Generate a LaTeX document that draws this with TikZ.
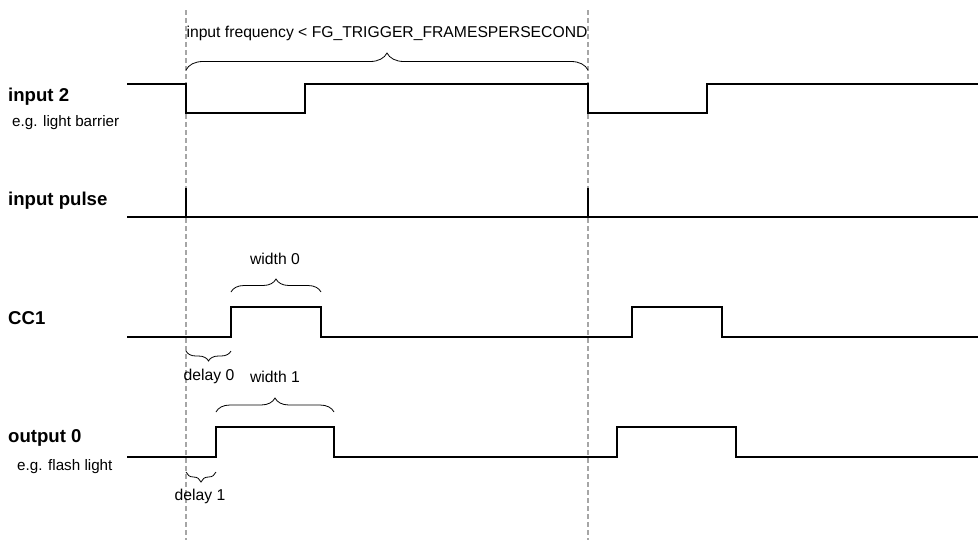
\documentclass[tikz,border=0pt]{standalone}
\usepackage{fontspec}
\setmainfont{Liberation Sans}
\usetikzlibrary{decorations.pathreplacing}

\begin{document}
\begin{tikzpicture}[x=1pt, y=-1pt,
  every node/.style={inner sep=0pt},
  signal/.style={line width=1.6pt, line join=miter},
  guide/.style={gray!70, line width=1.2pt, dash pattern=on 5pt off 3pt},
  bracket/.style={decorate, decoration={brace, amplitude=#1}, line width=0.8pt},
  title/.style={font=\bfseries\fontsize{18.6}{20}\selectfont, anchor=west},
  note/.style={font=\fontsize{15.2}{17}\selectfont, anchor=west},
  tag/.style={font=\fontsize{15.7}{17}\selectfont}]
\useasboundingbox (0,0) rectangle (978,542);

% Trigger instants
\draw[guide] (186,10) -- (186,540);
\draw[guide] (588,10) -- (588,540);

% Signal names
\node[title] (in2) at (8,97) {input 2};
\node[note] (in2note) at (12,123) {e.g. light barrier};
\node[title] (pulse) at (8,201) {input pulse};
\node[title] (cc) at (8,318) {CC1};
\node[title] (out) at (8,438) {output 0};
\node[note] (outnote) at (17,467) {e.g. flash light};

% Waveforms
\draw[signal] (127,84) -- (186,84) -- (186,113) -- (305,113) -- (305,84)
  -- (588,84) -- (588,113) -- (707,113) -- (707,84) -- (978,84);
\draw[signal] (127,217) -- (978,217);
\draw[signal] (186,217) -- (186,188);
\draw[signal] (588,217) -- (588,188);
\draw[signal] (127,337) -- (231,337) -- (231,307) -- (321,307) -- (321,337)
  -- (632,337) -- (632,307) -- (722,307) -- (722,337) -- (978,337);
\draw[signal] (127,457) -- (216,457) -- (216,427) -- (334,427) -- (334,457)
  -- (617,457) -- (617,427) -- (736,427) -- (736,457) -- (978,457);

% Braces and their labels
\draw[bracket=17pt] (186,70) -- (588,70);
\node[tag] (freq) at (387,33) {input frequency < FG\_TRIGGER\_FRAMESPERSECOND};
\draw[bracket=13pt] (231,292) -- (321,292);
\node[tag] (w0) at (275,259) {width 0};
\draw[bracket=10pt] (231,351) -- (186,351);
\node[tag] (d0) at (209,376) {delay 0};
\draw[bracket=14pt] (216,412) -- (334,412);
\node[tag] (w1) at (275,377) {width 1};
\draw[bracket=10pt] (216,472) -- (186,472);
\node[tag] (d1) at (200,496) {delay 1};
\end{tikzpicture}
\end{document}
